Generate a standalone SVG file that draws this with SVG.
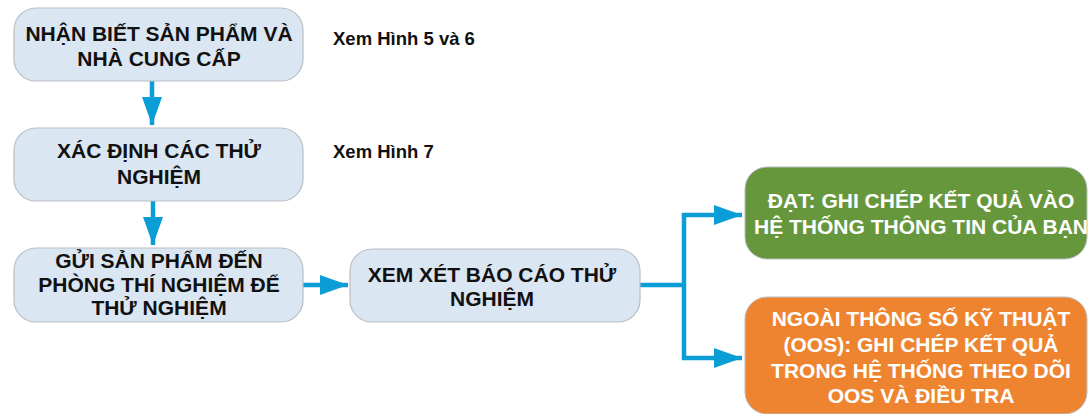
<svg xmlns="http://www.w3.org/2000/svg" width="1088" height="414" viewBox="0 0 1088 414">
  <style>
    .box { fill: #dbe6f3; stroke: #b9bec4; stroke-width: 1.2; }
    .t { font-family: "Liberation Sans", Arial, sans-serif; font-weight: bold; font-size: 21px; fill: #111; text-anchor: middle; }
    .tw { font-family: "Liberation Sans", Arial, sans-serif; font-weight: bold; font-size: 21px; fill: #ffffff; text-anchor: middle; }
    .note { font-family: "Liberation Sans", Arial, sans-serif; font-weight: bold; font-size: 18.5px; fill: #111; }
    .con { fill: none; stroke: #0b9dd6; stroke-width: 4.5; }
  </style>
  <defs>
    <marker id="ah" viewBox="0 0 28 20" markerWidth="28" markerHeight="20" refX="28" refY="10" markerUnits="userSpaceOnUse" orient="auto">
      <path d="M0,0 L28,10 L0,20 Z" fill="#0b9dd6"/>
    </marker>
  </defs>
  <rect width="1088" height="414" fill="#ffffff"/>

  <g id="connectors">
    <path class="con" d="M152,81 L152,125" marker-end="url(#ah)"/>
    <path class="con" d="M153,201 L153,245" marker-end="url(#ah)"/>
    <path class="con" d="M303,285 L348,285" marker-end="url(#ah)"/>
    <path class="con" d="M640,285 L684,285"/>
    <path class="con" d="M684,213 L684,360"/>
    <path class="con" d="M682,215 L742,215" marker-end="url(#ah)"/>
    <path class="con" d="M682,358 L742,358" marker-end="url(#ah)"/>
  </g>

  <g id="node1">
    <rect class="box" x="14" y="8" width="289" height="73" rx="22"/>
    <text class="t" x="159" y="41">NHẬN BIẾT SẢN PHẨM VÀ</text>
    <text class="t" x="159" y="66">NHÀ CUNG CẤP</text>
  </g>
  <g id="note1">
    <text class="note" x="333" y="45">Xem Hình 5 và 6</text>
  </g>

  <g id="node2">
    <rect class="box" x="14" y="128" width="289" height="73" rx="22"/>
    <text class="t" x="159" y="158">XÁC ĐỊNH CÁC THỬ</text>
    <text class="t" x="159" y="184">NGHIỆM</text>
  </g>
  <g id="note2">
    <text class="note" x="333" y="158">Xem Hình 7</text>
  </g>

  <g id="node3">
    <rect class="box" x="14" y="248" width="289" height="74" rx="22"/>
    <text class="t" x="159" y="268">GỬI SẢN PHẨM ĐẾN</text>
    <text class="t" x="159" y="292">PHÒNG THÍ NGHIỆM ĐỂ</text>
    <text class="t" x="159" y="315">THỬ NGHIỆM</text>
  </g>

  <g id="node4">
    <rect class="box" x="350" y="249" width="290" height="73" rx="22"/>
    <text class="t" x="492" y="282">XEM XÉT BÁO CÁO THỬ</text>
    <text class="t" x="492" y="306">NGHIỆM</text>
  </g>

  <g id="node5">
    <rect x="745" y="167" width="342" height="92" rx="22" fill="#67973d" stroke="#b9bec4" stroke-width="1"/>
    <text class="tw" x="921" y="208">ĐẠT: GHI CHÉP KẾT QUẢ VÀO</text>
    <text class="tw" x="921" y="234">HỆ THỐNG THÔNG TIN CỦA BẠN</text>
  </g>

  <g id="node6">
    <rect x="745" y="297" width="342" height="117" rx="22" fill="#ef8430" stroke="#b9bec4" stroke-width="1"/>
    <text class="tw" x="921" y="326">NGOÀI THÔNG SỐ KỸ THUẬT</text>
    <text class="tw" x="921" y="352">(OOS): GHI CHÉP KẾT QUẢ</text>
    <text class="tw" x="921" y="378">TRONG HỆ THỐNG THEO DÕI</text>
    <text class="tw" x="921" y="403">OOS VÀ ĐIỀU TRA</text>
  </g>
</svg>
